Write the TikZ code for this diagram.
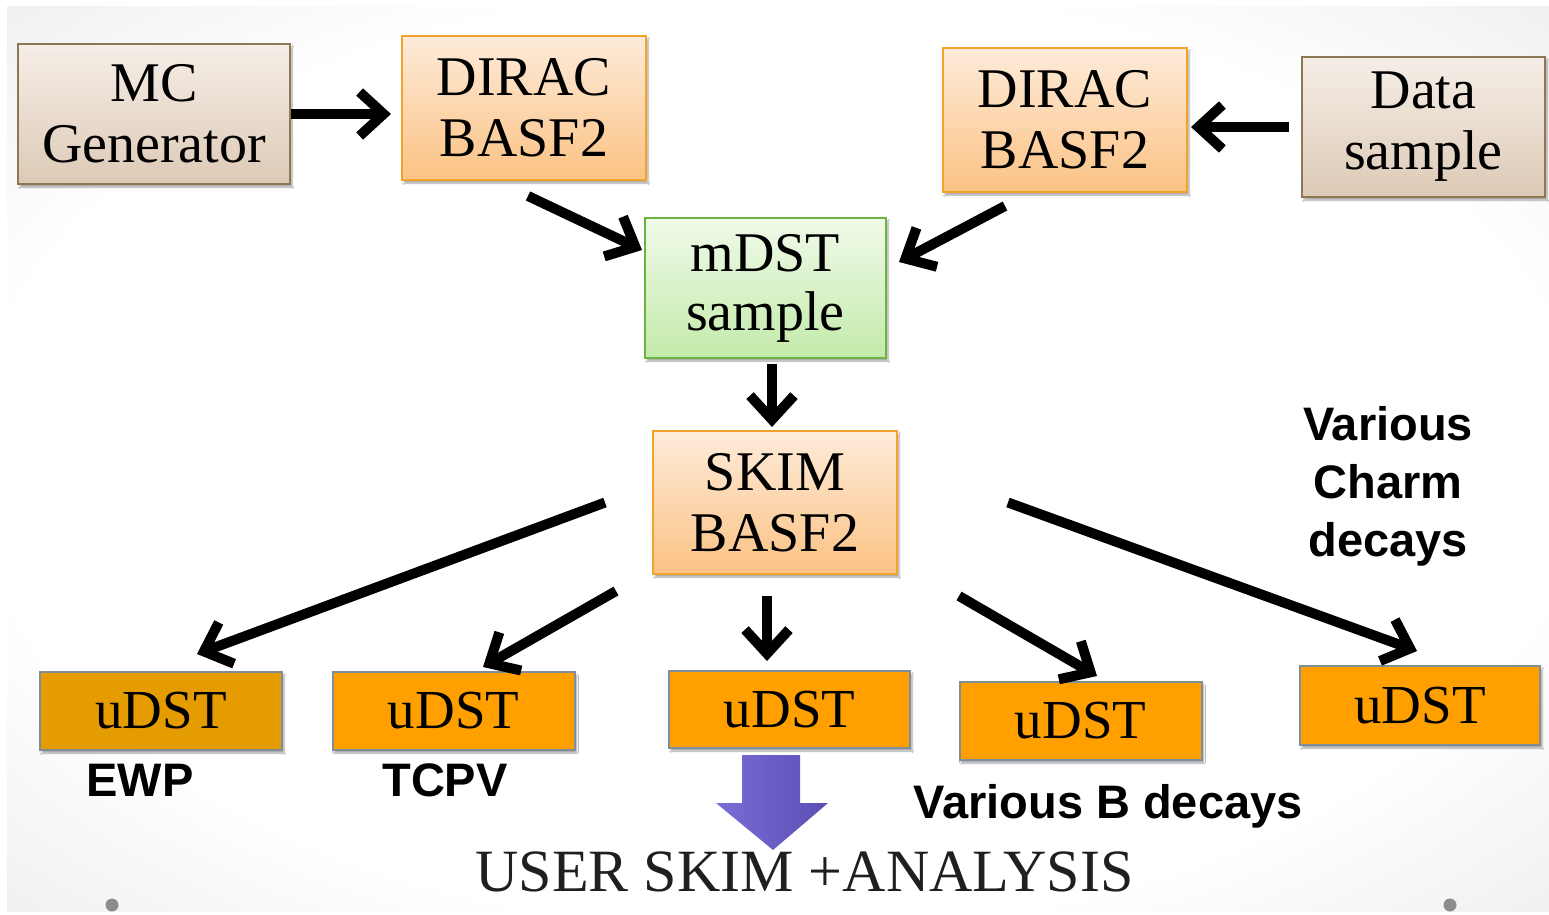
\documentclass[tikz,border=0pt]{standalone}
\usepackage{fontspec}
\setmainfont{Liberation Serif}
\newfontfamily\labelfont{Liberation Sans}
\usetikzlibrary{arrows.meta,calc,shadows.blur}

\definecolor{tanTop}{HTML}{F5EEE7}
\definecolor{tanBot}{HTML}{DDCAB6}
\definecolor{tanLine}{HTML}{8C7853}
\definecolor{orTop}{HTML}{FDEBDA}
\definecolor{orBot}{HTML}{FBC283}
\definecolor{orLine}{HTML}{F2A32A}
\definecolor{grTop}{HTML}{F0FAE9}
\definecolor{grBot}{HTML}{C3EAAA}
\definecolor{grLine}{HTML}{6DB33F}
\definecolor{udFill}{HTML}{FFA000}
\definecolor{udDark}{HTML}{E59C00}
\definecolor{udLine}{HTML}{7F8C99}
\definecolor{purL}{HTML}{7A6ED6}
\definecolor{purR}{HTML}{5B4EB4}

\pgfdeclareradialshading{slidebg}{\pgfpoint{0bp}{0bp}}{%
  color(0bp)=(white); color(26bp)=(white); color(50bp)=(black!15); color(100bp)=(black!22)}

\tikzset{
  box/.style={draw, line width=2pt, minimum width=#1, inner sep=0pt, align=center,
    blur shadow={shadow xshift=2pt, shadow yshift=-3pt, shadow opacity=35, shadow blur steps=6}},
  tanbox/.style={box=#1, minimum height=140pt, draw=tanLine, top color=tanTop, bottom color=tanBot,
    font=\fontsize{56}{61}\selectfont},
  orbox/.style={box=#1, minimum height=144pt, draw=orLine, top color=orTop, bottom color=orBot,
    font=\fontsize{56}{61}\selectfont},
  grbox/.style={box=#1, minimum height=140pt, draw=grLine, top color=grTop, bottom color=grBot,
    font=\fontsize{56}{59}\selectfont},
  udbox/.style={box=242pt, minimum height=78pt, draw=udLine, fill=#1,
    font=\fontsize{55}{60}\selectfont},
  lbl/.style={font=\labelfont\bfseries\fontsize{47}{58}\selectfont, align=center},
  arr/.style={line width=10pt, -{Straight Barb[length=24pt, width=44pt]}}
}

\begin{document}
\begin{tikzpicture}[x=1pt, y=-1pt]
  % slide background
  \useasboundingbox (0,0) rectangle (1549,914);
  \fill[white] (0,0) rectangle (1549,914);
  \shade[shading=slidebg] (7,6) rectangle (1549,911);
  \fill[black!45] (112,905) circle (6.5);
  \fill[black!45] (1450,905) circle (6.5);

  % upper row
  \node[tanbox=272pt] (mc)   at (154,114)    {MC\\Generator};
  \node[orbox=244pt]  (dl)   at (524,108)    {DIRAC\\BASF2};
  \node[orbox=244pt]  (dr)   at (1065,120)   {DIRAC\\BASF2};
  \node[tanbox=243pt] (data) at (1423.5,127) {Data\\sample};

  % middle
  \node[grbox=241pt]  (mdst) at (765.5,288)  {mDST\\sample};
  \node[orbox=244pt, minimum height=143pt] (skim) at (775,502.5) {SKIM\\BASF2};

  % uDST row
  \node[udbox=udDark] (u1) at (161,711)     {uDST};
  \node[udbox=udFill] (u2) at (453.5,711)   {uDST};
  \node[udbox=udFill, minimum width=241pt, minimum height=77pt] (u3) at (789.5,709.5) {uDST};
  \node[udbox=udFill] (u4) at (1080.5,721)  {uDST};
  \node[udbox=udFill, minimum width=240pt, minimum height=79pt] (u5) at (1420,705.5) {uDST};

  % category labels
  \node[lbl] (ewp)   at (140,780)  {EWP};
  \node[lbl] (tcpv)  at (445,780)  {TCPV};
  \node[lbl] (bdec)  at (1108,806) {Various B decays};
  \node[lbl] (charm) at (1388,486) {Various\\Charm\\decays};

  % final step
  \shade[left color=purL, right color=purR]
    (742,755) -- (800,755) -- (800,803) -- (828,803) -- (773,850)
    -- (716,803) -- (742,803) -- cycle;
  \node[font=\fontsize{60}{64}\selectfont, text=black!88, anchor=base] (user) at (804.5,891)
    {USER SKIM +ANALYSIS};

  % connectors
  \draw[arr] (mc.east) -- ([xshift=-10pt]mc.east -| dl.west);
  \draw[arr] ([xshift=-12pt]data.west) -- ([xshift=3pt]data.west -| dr.east);
  \draw[arr] ($(dl.south)+(4,15)$) -- ($(mdst.west)+(-2,-38)$);
  \draw[arr] ($(dr.south)+(-60,13)$) -- ($(mdst.east)+(12,-26)$);
  \draw[arr] ($(mdst.south)+(6.5,5)$) -- ($(skim.north)+(-3,-3)$);
  \draw[arr] ($(skim.west)+(-47,0)$) -- ($(u1.north)+(36,-17)$);
  \draw[arr] ($(skim.south west)+(-36,16)$) -- ($(u2.north)+(29.5,-4)$);
  \draw[arr] ($(skim.south)+(-8,21)$) -- ($(u3.north)+(-22.5,-9)$);
  \draw[arr] ($(skim.south east)+(61,21)$) -- ($(u4.north)+(16.5,-5)$);
  \draw[arr] ($(skim.east)+(110,0)$) -- ($(u5.north)+(-3,-14)$);
\end{tikzpicture}
\end{document}
